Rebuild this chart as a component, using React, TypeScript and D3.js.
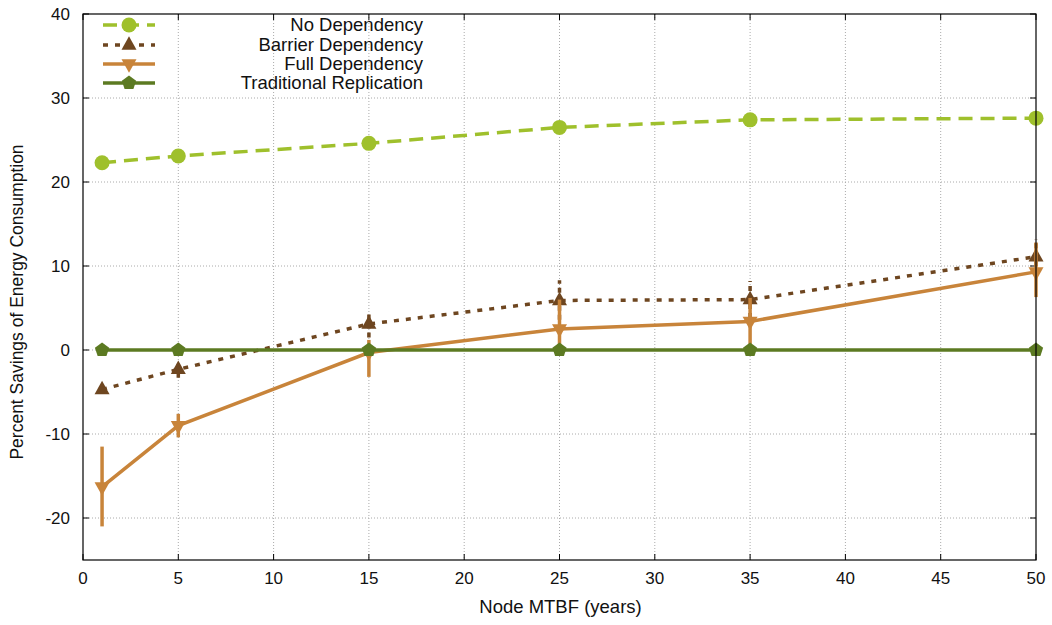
import React from "react";
import * as d3 from "d3";

const mtbf = [1, 5, 15, 25, 35, 50];
const noDep = [22.3, 23.1, 24.6, 26.5, 27.4, 27.6];
const barrier = [-4.7, -2.3, 3.1, 5.9, 6.0, 11.1];
const barrierLo = [-5.2, -3.3, 1.5, 3.6, 3.8, 8.9];
const barrierHi = [-4.2, -1.4, 4.6, 8.3, 8.2, 13.2];
const full = [-16.3, -9.0, -0.3, 2.5, 3.4, 9.3];
const fullLo = [-21.0, -10.4, -3.2, -0.5, 0.3, 6.3];
const fullHi = [-11.5, -7.6, 1.2, 6.0, 6.2, 12.8];
const trad = [0, 0, 0, 0, 0, 0];
const xTicks = [0, 5, 10, 15, 20, 25, 30, 35, 40, 45, 50];
const yTicks = [-20, -10, 0, 10, 20, 30, 40];
const legendNames = ["No Dependency", "Barrier Dependency", "Full Dependency", "Traditional Replication"];

const W = 1052, H = 625;
const L = 83, R = 1036, T = 14, B = 560;
const FONT = "'Liberation Sans', Arial, Helvetica, sans-serif";

const cNo = "#9fc02c";
const cBar = "#6e4620";
const cFull = "#c8843a";
const cTrad = "#5c7a22";

function tri(cx: number, cy: number, s: number, up: boolean) {
  const h = s * 0.9;
  if (up) return `M${cx},${cy - h * 0.65}L${cx + s / 2},${cy + h * 0.35}L${cx - s / 2},${cy + h * 0.35}Z`;
  return `M${cx},${cy + h * 0.65}L${cx + s / 2},${cy - h * 0.35}L${cx - s / 2},${cy - h * 0.35}Z`;
}
function penta(cx: number, cy: number, r: number) {
  const pts: string[] = [];
  for (let i = 0; i < 5; i++) {
    const a = -Math.PI / 2 + (i * 2 * Math.PI) / 5;
    pts.push(`${cx + r * Math.cos(a)},${cy + r * Math.sin(a)}`);
  }
  return "M" + pts.join("L") + "Z";
}

export default function App() {
  const x = d3.scaleLinear().domain([0, 50]).range([L, R]);
  const y = d3.scaleLinear().domain([-25, 40]).range([B, T]);
  const line = d3.line<number>().x((_, i) => x(mtbf[i])).y((d) => y(d));

  const legendY = [25, 45, 64, 83];

  return (
    <svg width={W} height={H} style={{ position: "absolute", left: 0, top: 0, background: "#fff" }} fontFamily={FONT}>
      {xTicks.slice(1, -1).map((t) => (
        <line key={"gx" + t} x1={x(t)} x2={x(t)} y1={T} y2={B} stroke="#aaa" strokeWidth={1} strokeDasharray="1,2" />
      ))}
      {yTicks.slice(0, -1).map((t) => (
        <line key={"gy" + t} x1={L} x2={R} y1={y(t)} y2={y(t)} stroke="#aaa" strokeWidth={1} strokeDasharray="1,2" />
      ))}
      {xTicks.map((t) => (
        <g key={"tx" + t}>
          <line x1={x(t)} x2={x(t)} y1={B} y2={B - 6} stroke="#000" />
          <line x1={x(t)} x2={x(t)} y1={T} y2={T + 6} stroke="#000" />
          <text x={x(t)} y={B + 24} textAnchor="middle" fontSize={17} fill="#111">{t}</text>
        </g>
      ))}
      {yTicks.map((t) => (
        <g key={"ty" + t}>
          <line x1={L} x2={L + 6} y1={y(t)} y2={y(t)} stroke="#000" />
          <line x1={R} x2={R - 6} y1={y(t)} y2={y(t)} stroke="#000" />
          <text x={70} y={y(t) + 6} textAnchor="end" fontSize={17} fill="#111">{t}</text>
        </g>
      ))}
      <text x={(L + R) / 2 + 1} y={613} textAnchor="middle" fontSize={18.5} fill="#111">Node MTBF (years)</text>
      <text transform={`translate(23,${(T + B) / 2 + 15}) rotate(-90)`} textAnchor="middle" fontSize={17.5} fill="#111">
        Percent Savings of Energy Consumption
      </text>

      <path d={line(noDep) || ""} fill="none" stroke={cNo} strokeWidth={3.5} strokeDasharray="14,8" />
      {noDep.map((v, i) => <circle key={"n" + i} cx={x(mtbf[i])} cy={y(v)} r={7.5} fill={cNo} />)}

      <path d={line(barrier) || ""} fill="none" stroke={cBar} strokeWidth={3.5} strokeDasharray="5,7" />
      {barrier.map((v, i) => (
        <g key={"b" + i}>
          <line x1={x(mtbf[i])} x2={x(mtbf[i])} y1={y(barrierLo[i])} y2={y(barrierHi[i])} stroke={cBar} strokeWidth={3.5} strokeDasharray="5,4" />
          <path d={tri(x(mtbf[i]), y(v), 15, true)} fill={cBar} />
        </g>
      ))}

      <path d={line(full) || ""} fill="none" stroke={cFull} strokeWidth={3.5} />
      {full.map((v, i) => (
        <g key={"f" + i}>
          <line x1={x(mtbf[i])} x2={x(mtbf[i])} y1={y(fullLo[i])} y2={y(fullHi[i])} stroke={cFull} strokeWidth={3.5} />
          <path d={tri(x(mtbf[i]), y(v), 15, false)} fill={cFull} />
        </g>
      ))}

      <path d={line(trad) || ""} fill="none" stroke={cTrad} strokeWidth={3.5} />
      {trad.map((v, i) => <path key={"t" + i} d={penta(x(mtbf[i]), y(v), 7.5)} fill={cTrad} />)}

      <rect x={L} y={T} width={R - L} height={B - T} fill="none" stroke="#000" strokeWidth={1.2} />

      {legendNames.map((name, i) => {
        const ly = legendY[i];
        const colors = [cNo, cBar, cFull, cTrad];
        const dash = ["14,8", "5,7", "", ""];
        return (
          <g key={"l" + i}>
            <line x1={103} x2={155} y1={ly} y2={ly} stroke={colors[i]} strokeWidth={3.5} strokeDasharray={dash[i] || undefined} />
            {i === 0 && <circle cx={129} cy={ly} r={7.5} fill={cNo} />}
            {i === 1 && <path d={tri(129, ly, 15, true)} fill={cBar} />}
            {i === 2 && <path d={tri(129, ly, 15, false)} fill={cFull} />}
            {i === 3 && <path d={penta(129, ly, 7.5)} fill={cTrad} />}
            <text x={423} y={ly + 6} textAnchor="end" fontSize={18.5} fill="#111">{name}</text>
          </g>
        );
      })}
    </svg>
  );
}
